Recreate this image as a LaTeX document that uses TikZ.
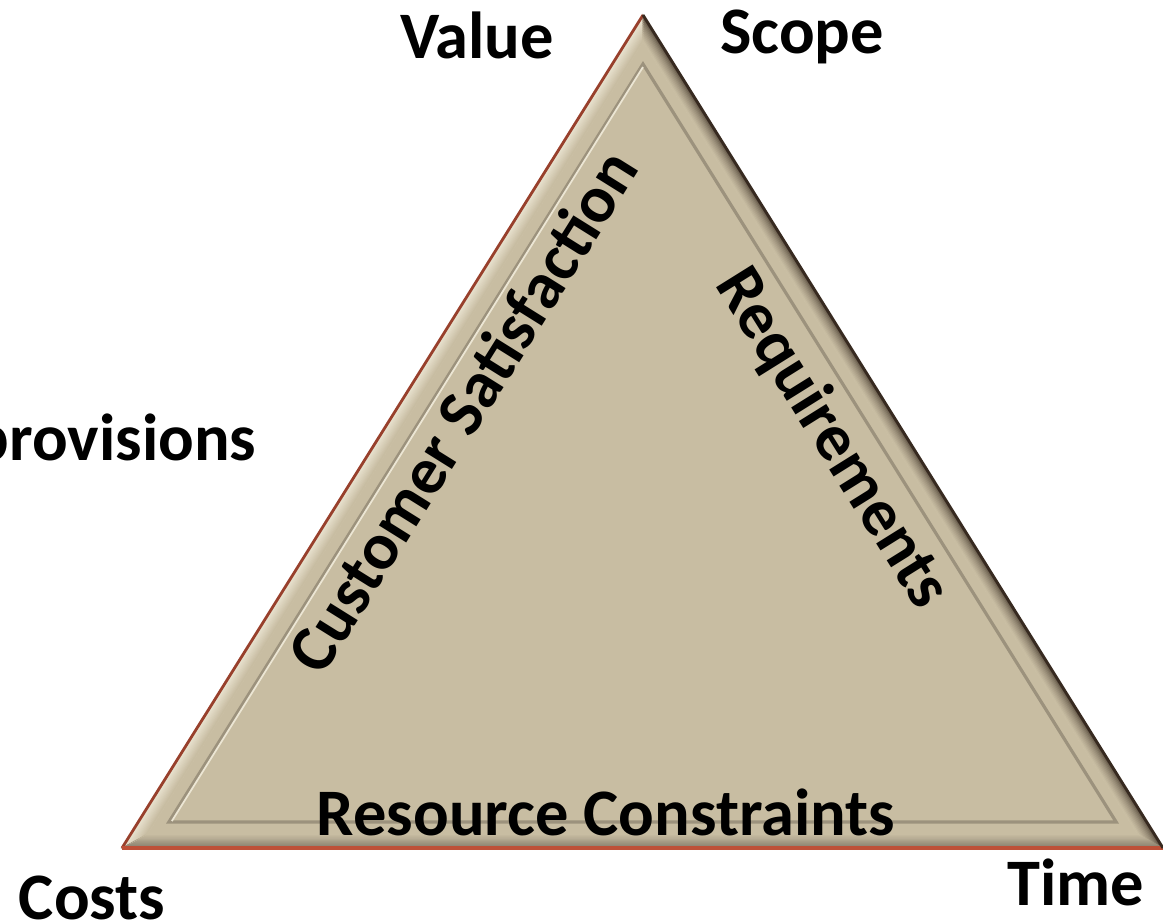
\documentclass[tikz,border=0pt]{standalone}
\usepackage{fontspec}
\setmainfont{Carlito}
\usetikzlibrary{calc}

\definecolor{sand}{RGB}{200,189,162}
\definecolor{sandlight}{RGB}{236,230,212}
\definecolor{sanddark}{RGB}{55,42,32}
\definecolor{sandgray}{RGB}{120,110,94}
\definecolor{rimred}{RGB}{190,80,55}

\begin{document}
\begin{tikzpicture}[
    x=0.01cm, y=-0.01cm,
    corner/.style={font=\fontsize{18.9}{22}\selectfont\bfseries, inner sep=0pt},
    side/.style={font=\fontsize{18.9}{22}\selectfont\bfseries, inner sep=0pt},
    groove/.style={line width=0.9pt}
]
  \useasboundingbox (0,0) rectangle (1163,921);

  % outer corners and in-centre of the triangle
  \coordinate (top) at (643,15);
  \coordinate (left) at (122,848);
  \coordinate (right) at (1163,848);
  \coordinate (mid) at (642.8,559.5);

  % inner edge of the bevel and the groove line
  \coordinate (top in) at ($(mid)!0.95!(top)$);
  \coordinate (left in) at ($(mid)!0.95!(left)$);
  \coordinate (right in) at ($(mid)!0.95!(right)$);
  \coordinate (top line) at ($(mid)!0.91!(top)$);
  \coordinate (left line) at ($(mid)!0.91!(left)$);
  \coordinate (right line) at ($(mid)!0.91!(right)$);

  % bevel faces, strip by strip from the rim inwards
  \foreach \i in {0,...,11} {
    \pgfmathsetmacro\sa{1-0.00417*\i}
    \pgfmathsetmacro\sb{1-0.00417*(\i+1)}
    \pgfmathsetmacro\ml{100*\i/11}
    \pgfmathsetmacro\mr{100*sqrt(\i/11)}
    \pgfmathsetmacro\mb{100*(\i/11)^0.7}
    \path[fill=sand!\ml!sandlight, draw=sand!\ml!sandlight, line width=0.2pt]
      ($(mid)!\sa!(left)$) -- ($(mid)!\sa!(top)$) -- ($(mid)!\sb!(top)$) -- ($(mid)!\sb!(left)$) -- cycle;
    \path[fill=sand!\mr!sanddark, draw=sand!\mr!sanddark, line width=0.2pt]
      ($(mid)!\sa!(top)$) -- ($(mid)!\sa!(right)$) -- ($(mid)!\sb!(right)$) -- ($(mid)!\sb!(top)$) -- cycle;
    \path[fill=sand!\mb!sandgray, draw=sand!\mb!sandgray, line width=0.2pt]
      ($(mid)!\sa!(left)$) -- ($(mid)!\sa!(right)$) -- ($(mid)!\sb!(right)$) -- ($(mid)!\sb!(left)$) -- cycle;
  }

  % face of the triangle
  \fill[sand] (top in) -- (right in) -- (left in) -- cycle;
  \draw[groove, sandgray!55!sand] (top line) -- (right line) -- (left line) -- cycle;
  \draw[line width=0.5pt, sandlight] ($(top line)+(0,3)$) -- ($(left line)+(3,-1)$);

  % rim of the triangle
  \draw[rimred!80!black, line width=0.8pt] (top) -- (left);
  \draw[rimred, line width=1pt] (left) -- (right);
  \draw[sanddark, line width=0.8pt] (top) -- (right);

  % labels at the corners
  \node[corner] (value) at (477,35) {Value};
  \node[corner] (scope) at (802,37) {Scope};
  \node[corner, anchor=east] (provisions) at (257,442) {provisions};
  \node[corner] (costs) at (92,898) {Costs};
  \node[corner] (time) at (1076,882) {Time};

  % labels along the sides
  \node[side, rotate=58] (satisfaction) at (462,411) {Customer Satisfaction};
  \node[side, rotate=-58] (requirements) at (832,439) {Requirements};
  \node[side] (resources) at (606,812) {Resource Constraints};
\end{tikzpicture}
\end{document}
